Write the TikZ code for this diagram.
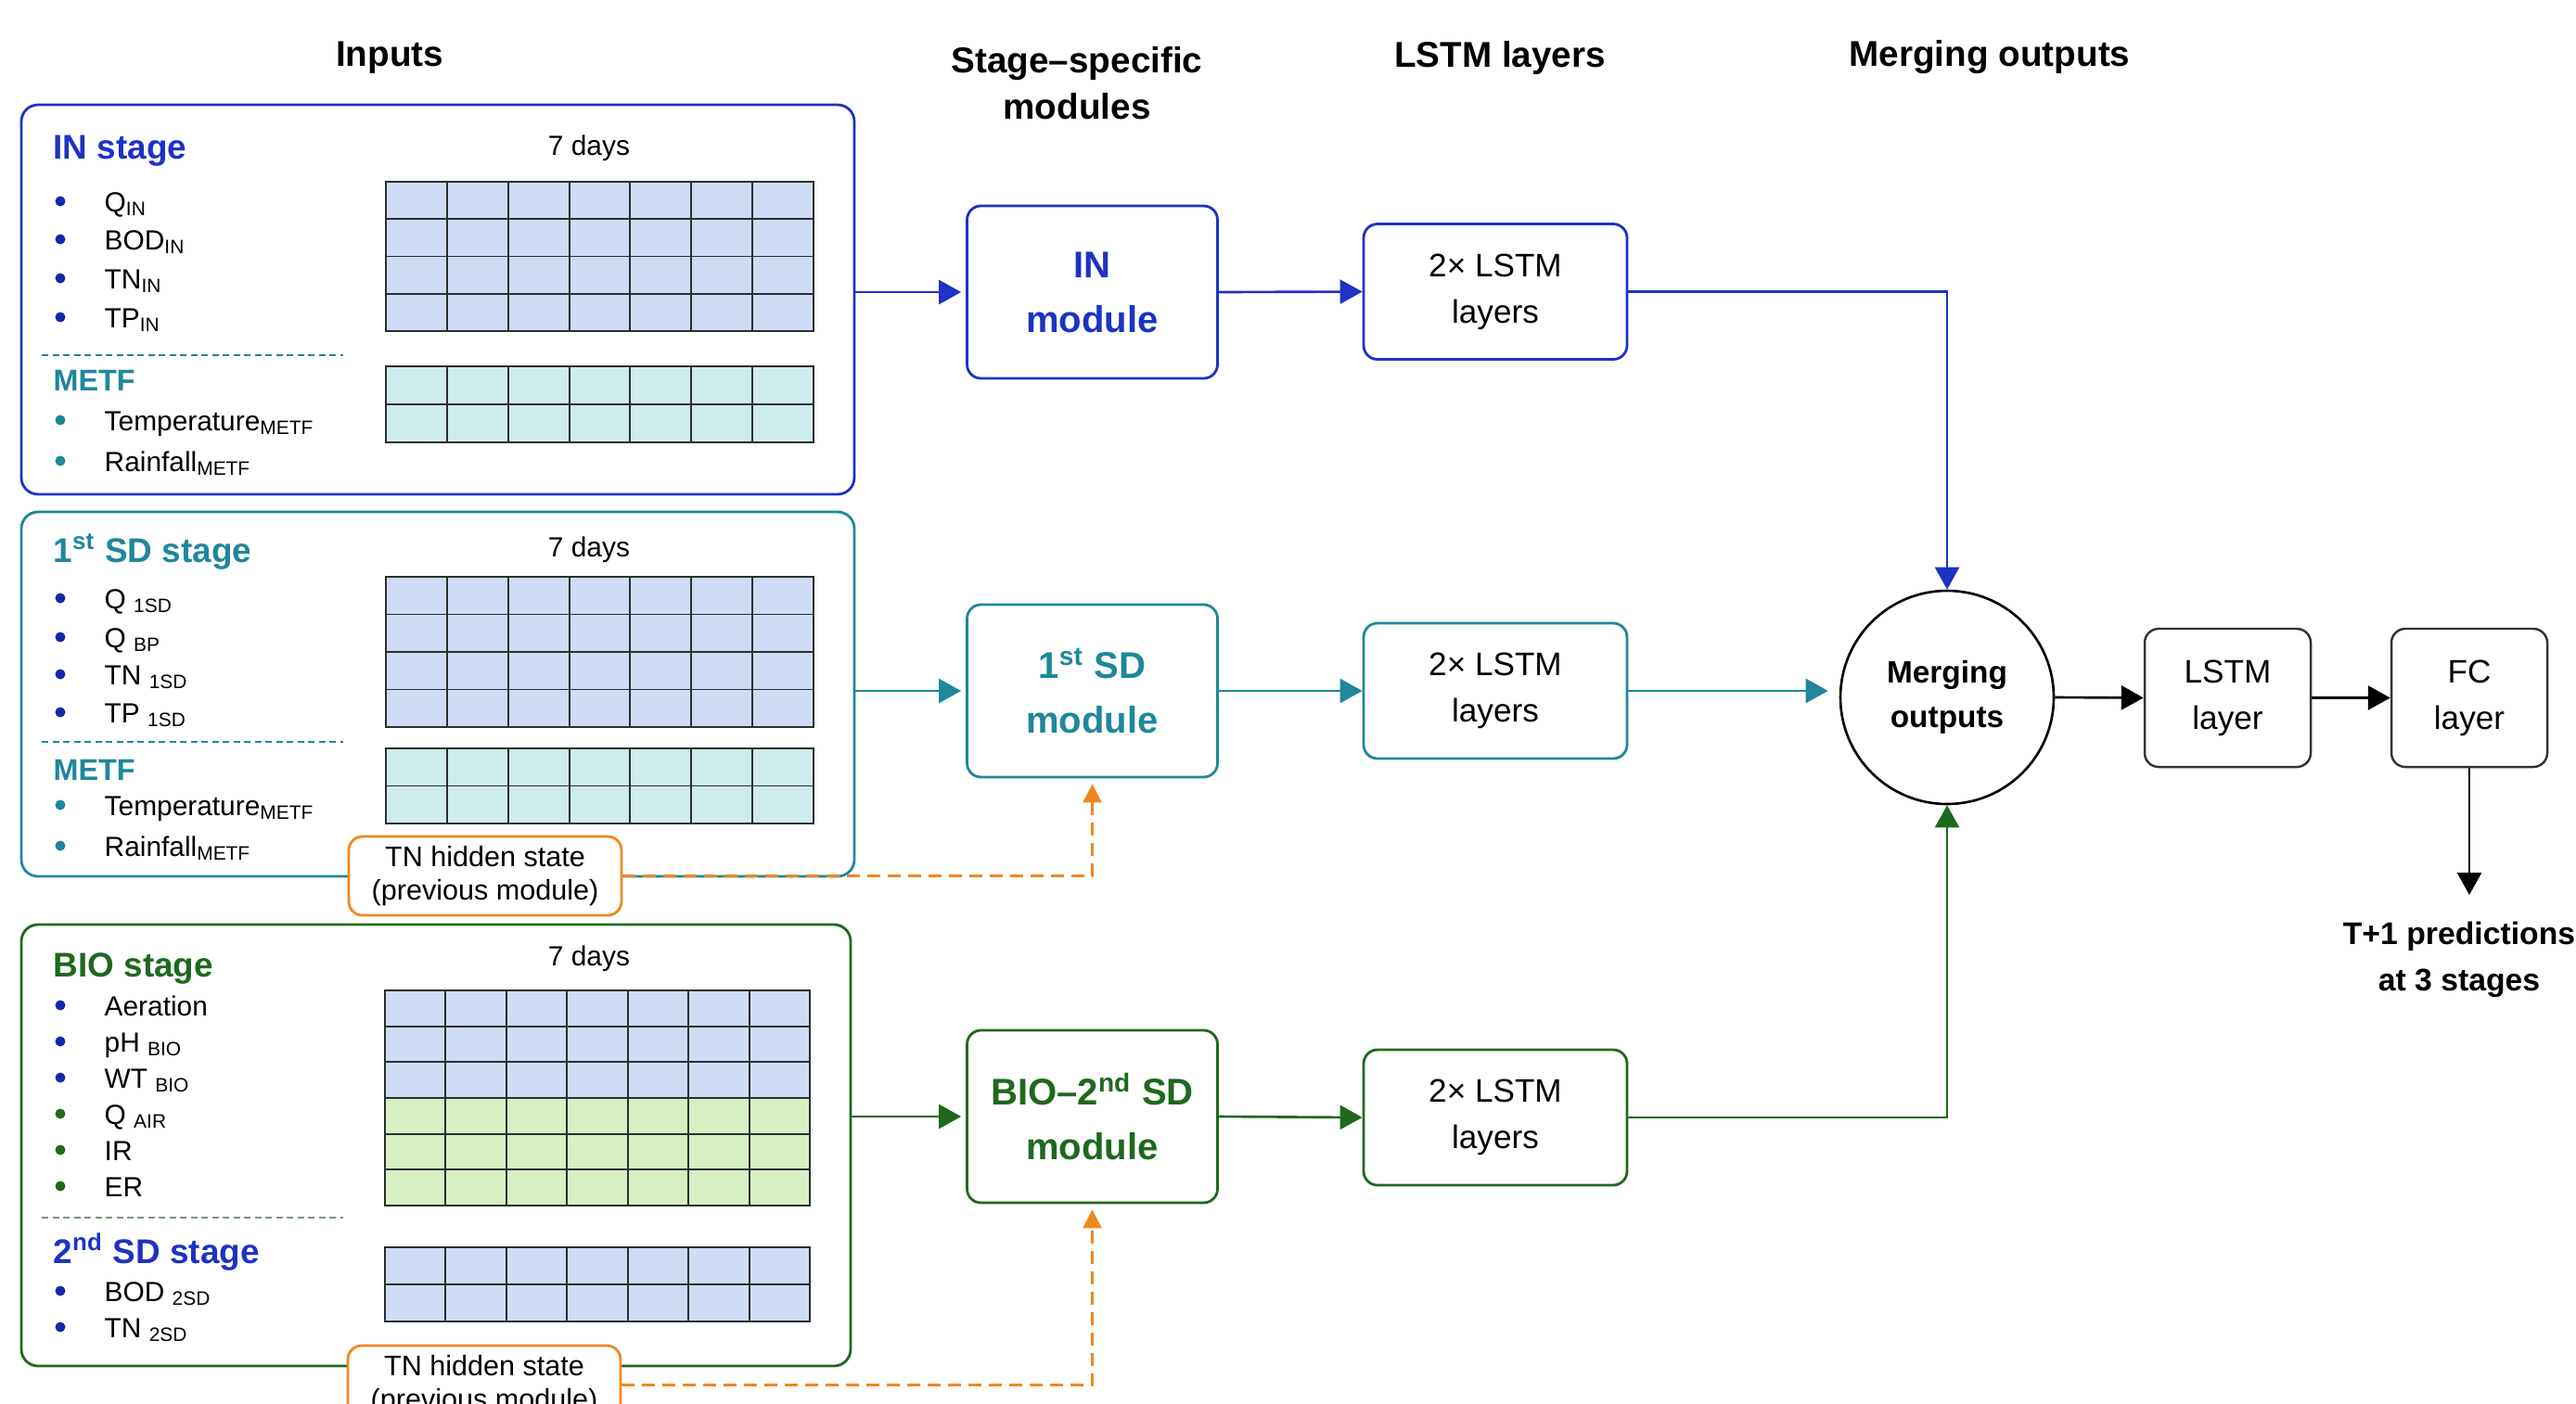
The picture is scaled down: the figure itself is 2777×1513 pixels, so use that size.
\documentclass[tikz,border=0pt]{standalone}
\usepackage{fontspec}
\setmainfont{Liberation Sans}
\usetikzlibrary{arrows.meta,calc}
\definecolor{cblue}{RGB}{30,50,195}
\definecolor{cnavy}{RGB}{20,40,170}
\definecolor{cteal}{RGB}{30,135,155}
\definecolor{cgreen}{RGB}{30,105,30}
\definecolor{corange}{RGB}{240,135,30}
\definecolor{fblue}{RGB}{206,220,246}
\definecolor{fcyan}{RGB}{206,235,238}
\definecolor{fgreen}{RGB}{214,240,196}
\definecolor{cgrid}{RGB}{45,45,45}
\definecolor{csep}{RGB}{120,150,120}
\newcommand{\bitem}[4]{\fill[#3] (65,#2) circle[radius=0.55mm]; \node[item] (#1) at (112,#2+11) {#4};}
\newcommand{\dgrid}[5]{%
  \foreach \i in {1,...,6} \draw[gridline] ({#1+(#3-#1)*\i/7},#2) -- ({#1+(#3-#1)*\i/7},#4);
  \foreach \j in {#5} \draw[gridline] (#1,{#2+(#4-#2)*\j}) -- (#3,{#2+(#4-#2)*\j});
  \draw[gridline] (#1,#2) rectangle (#3,#4);}
\begin{document}
\begin{tikzpicture}[x=0.1mm,y=-0.1mm,
  heading/.style={font=\fontsize{11}{14.2}\selectfont\bfseries, align=center, inner sep=0},
  stitle/.style={font=\fontsize{10.5}{12}\selectfont\bfseries, anchor=base west, inner sep=0},
  mtitle/.style={font=\fontsize{9.2}{11}\selectfont\bfseries, anchor=base west, inner sep=0},
  item/.style={font=\fontsize{8.5}{10}\selectfont, anchor=base west, inner sep=0},
  days/.style={font=\fontsize{8.5}{10}\selectfont, inner sep=0},
  stagebox/.style={rounded corners=1.8mm, line width=0.8pt, inner sep=0},
  gridline/.style={cgrid, line width=0.55pt},
  sepline/.style={dash pattern=on 0.7mm off 0.45mm, line width=0.7pt},
  tnbox/.style={draw=corange, fill=white, rounded corners=1.5mm, line width=0.8pt,
    minimum width=29.4mm, minimum height=8.5mm, align=center, inner sep=0,
    font=\fontsize{8.7}{10.2}\selectfont},
  module/.style={rounded corners=1.5mm, line width=0.8pt, minimum width=27mm,
    minimum height=18.6mm, align=center, inner sep=0, font=\fontsize{11.4}{16.8}\selectfont\bfseries},
  lstmbox/.style={rounded corners=1.5mm, line width=0.8pt, minimum width=28.4mm,
    minimum height=14.6mm, align=center, inner sep=0, font=\fontsize{10}{14.2}\selectfont},
  blackbox/.style={draw=black!80, rounded corners=1.5mm, line width=0.7pt,
    minimum height=14.9mm, align=center, inner sep=0, font=\fontsize{10}{14.2}\selectfont},
  conn/.style={line width=0.75pt, -{Triangle[length=2.4mm,width=2.6mm]}},
  dashconn/.style={corange, line width=0.75pt, dash pattern=on 1.4mm off 0.8mm,
    -{Triangle[length=2mm,width=2mm]}, shorten >=0.6mm}
]
\useasboundingbox (0,0) rectangle (2777,1513);
\fill[white] (0,0) rectangle (2777,1513);

% headings
\node[heading] (hin) at (420,62) {Inputs};
\node[heading] (hmod) at (1161,90) {Stage–specific\\modules};
\node[heading] (hlstm) at (1617,62) {LSTM layers};
\node[heading] (hmerge) at (2145,62) {Merging outputs};

% stage boxes
\node[stagebox, draw=cblue, minimum width=89.8mm, minimum height=42mm] (inbox) at (472,323) {};
\node[stagebox, draw=cteal, minimum width=89.8mm, minimum height=39.3mm] (sdbox) at (472,748.5) {};
\node[stagebox, draw=cgreen, minimum width=89.4mm, minimum height=47.6mm] (biobox) at (470,1235) {};

% IN stage
\node[stitle, text=cblue] (tin) at (57,171) {IN stage};
\node[days] (d1) at (635,160) {7 days};
\bitem{i1}{217}{cnavy}{Q\textsubscript{IN}}
\bitem{i2}{258}{cnavy}{BOD\textsubscript{IN}}
\bitem{i3}{300}{cnavy}{TN\textsubscript{IN}}
\bitem{i4}{342}{cnavy}{TP\textsubscript{IN}}
\draw[sepline, cteal] (45,383) -- (370,383);
\node[mtitle, text=cteal] (metf1) at (57,421) {METF};
\bitem{i5}{453}{cteal}{Temperature\textsubscript{METF}}
\bitem{i6}{497}{cteal}{Rainfall\textsubscript{METF}}
\fill[fblue] (416,196) rectangle (877,357);
\dgrid{416}{196}{877}{357}{0.25,0.5,0.75}
\fill[fcyan] (416,395) rectangle (877,477);
\dgrid{416}{395}{877}{477}{0.5}

% 1st SD stage
\node[stitle, text=cteal] (tsd) at (57,606) {1\textsuperscript{st} SD stage};
\node[days] (d2) at (635,593) {7 days};
\bitem{s1}{645}{cnavy}{Q \textsubscript{1SD}}
\bitem{s2}{687}{cnavy}{Q \textsubscript{BP}}
\bitem{s3}{727}{cnavy}{TN \textsubscript{1SD}}
\bitem{s4}{768}{cnavy}{TP \textsubscript{1SD}}
\draw[sepline, cteal] (45,800) -- (370,800);
\node[mtitle, text=cteal] (metf2) at (57,841) {METF};
\bitem{s5}{868}{cteal}{Temperature\textsubscript{METF}}
\bitem{s6}{912}{cteal}{Rainfall\textsubscript{METF}}
\fill[fblue] (416,622) rectangle (877,784);
\dgrid{416}{622}{877}{784}{0.25,0.5,0.75}
\fill[fcyan] (416,807) rectangle (877,888);
\dgrid{416}{807}{877}{888}{0.5}

% BIO stage
\node[stitle, text=cgreen] (tbio) at (57,1053) {BIO stage};
\node[days] (d3) at (635,1034) {7 days};
\bitem{b1}{1084}{cnavy}{Aeration}
\bitem{b2}{1123}{cnavy}{pH \textsubscript{BIO}}
\bitem{b3}{1162}{cnavy}{WT \textsubscript{BIO}}
\bitem{b4}{1201}{cgreen}{Q \textsubscript{AIR}}
\bitem{b5}{1240}{cgreen}{IR}
\bitem{b6}{1279}{cgreen}{ER}
\draw[sepline, csep] (45,1313) -- (370,1313);
\node[stitle, text=cblue] (tsd2) at (57,1362) {2\textsuperscript{nd} SD stage};
\bitem{b7}{1392}{cnavy}{BOD \textsubscript{2SD}}
\bitem{b8}{1431}{cnavy}{TN \textsubscript{2SD}}
\fill[fblue] (415,1068) rectangle (873,1184);
\fill[fgreen] (415,1184) rectangle (873,1300);
\dgrid{415}{1068}{873}{1300}{1/6,2/6,3/6,4/6,5/6}
\fill[fblue] (415,1345) rectangle (873,1425);
\dgrid{415}{1345}{873}{1425}{0.5}

% hidden state boxes
\node[tnbox] (tn1) at (523,944.5) {TN hidden state\\(previous module)};
\node[tnbox] (tn2) at (522,1493.5) {TN hidden state\\(previous module)};

% modules
\node[module, draw=cblue, text=cblue] (m1) at (1177.5,315) {IN\\module};
\node[module, draw=cteal, text=cteal] (m2) at (1177.5,745) {1\textsuperscript{st} SD\\module};
\node[module, draw=cgreen, text=cgreen] (m3) at (1177.5,1204) {BIO–2\textsuperscript{nd} SD\\module};

% LSTM boxes
\node[lstmbox, draw=cblue] (l1) at (1612,314.5) {2× LSTM\\layers};
\node[lstmbox, draw=cteal] (l2) at (1612,745) {2× LSTM\\layers};
\node[lstmbox, draw=cgreen] (l3) at (1612,1205) {2× LSTM\\layers};

% merging and output
\node[circle, draw=black, line width=0.75pt, minimum size=23mm, inner sep=0, align=center,
  font=\fontsize{9.5}{13.7}\selectfont\bfseries] (mg) at (2099,752) {Merging\\outputs};
\node[blackbox, minimum width=17.9mm] (ll) at (2401.5,752.5) {LSTM\\layer};
\node[blackbox, minimum width=16.8mm] (fc) at (2662,752.5) {FC\\layer};
\coordinate (outp) at (2662,965);
\node[align=center, inner sep=0, font=\fontsize{9.6}{14.2}\selectfont\bfseries] (pred) at (2651,1035) {T+1 predictions\\at 3 stages};

% connectors
\draw[conn, cblue, shorten >=0.5mm] (inbox.east |- m1.west) -- (m1.west);
\draw[conn, cblue] (m1.east) -- (l1.west);
\draw[conn, cblue] (l1.east) -| (mg.north);
\draw[conn, cteal, shorten >=0.5mm] (sdbox.east |- m2.west) -- (m2.west);
\draw[conn, cteal] (m2.east) -- (l2.west);
\draw[conn, cteal, shorten >=1.2mm] (l2.east) -- (l2.east -| mg.west);
\draw[conn, cgreen, shorten >=0.5mm] (biobox.east |- m3.west) -- (m3.west);
\draw[conn, cgreen] (m3.east) -- (l3.west);
\draw[conn, cgreen] (l3.east) -| (mg.south);
\draw[conn, black] (mg.east) -- (ll.west);
\draw[conn, black] (ll.east) -- (fc.west);
\draw[conn, black] (fc.south) -- (outp);
\draw[dashconn] (tn1.east) -| (m2.south);
\draw[dashconn] (tn2.east) -| (m3.south);
\end{tikzpicture}
\end{document}
